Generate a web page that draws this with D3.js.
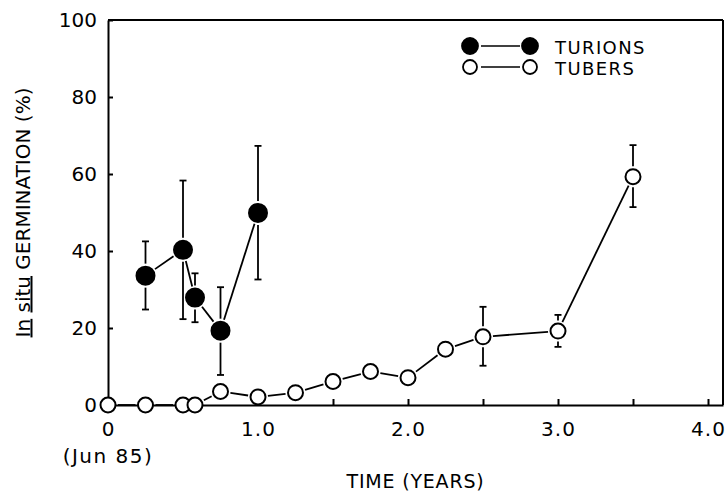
<!DOCTYPE html>
<html lang="en">
<head>
<meta charset="UTF-8">
<title>In situ germination</title>
<script src="https://d3js.org/d3.v7.min.js"></script>
<style>
    body { margin: 0; background: #fff; }
    svg text { font-family: "DejaVu Sans", sans-serif; fill: #000; }
    .axis path, .axis line { stroke: #000; stroke-width: 2; fill: none; }
    .axis text { font-size: 20px; }
    .xlab text { letter-spacing: 1px; }
</style>
</head>
<body>
<div id="chart"></div>
<script>
    // data
    var turionX = [0.25, 0.5, 0.58, 0.75, 1.0];
    var turionY = [33.6, 40.3, 27.9, 19.3, 49.9];
    var turionLo = [24.8, 22.3, 21.5, 7.8, 32.6];
    var turionHi = [42.5, 58.3, 34.2, 30.6, 67.3];

    var tuberX = [0, 0.25, 0.5, 0.58, 0.75, 1.0, 1.25, 1.5, 1.75, 2.0, 2.25, 2.5, 3.0, 3.5];
    var tuberY = [0, 0, 0, 0, 3.5, 2.1, 3.2, 6.1, 8.7, 7.1, 14.5, 17.7, 19.2, 59.3];
    var tuberLo = [null, null, null, null, null, null, null, null, null, null, null, 10.2, 15.1, 51.4];
    var tuberHi = [null, null, null, null, null, null, null, null, null, null, null, 25.5, 23.4, 67.5];

    var xTickLabels = [0, 1, 2, 3, 4];
    var xMinorTicks = [0.5, 1, 1.5, 2, 2.5, 3, 3.5, 4];
    var yTicks = [0, 20, 40, 60, 80, 100];
    var seriesNames = ["TURIONS", "TUBERS"];

    var W = 726, H = 496;
    var margin = { top: 20, right: 3, bottom: 91, left: 108 };
    var width = W - margin.left - margin.right;
    var height = H - margin.top - margin.bottom;

    var x = d3.scaleLinear().domain([0, 4.1]).range([0, width]);
    var y = d3.scaleLinear().domain([0, 100]).range([height, 0]);

    var svg = d3.select("#chart").append("svg")
        .attr("width", W).attr("height", H)
        .append("g")
        .attr("transform", "translate(" + margin.left + "," + margin.top + ")");

    // frame top + right
    svg.append("line").attr("x1", 0).attr("x2", width).attr("y1", 0).attr("y2", 0)
        .attr("stroke", "#000").attr("stroke-width", 2);
    svg.append("line").attr("x1", width).attr("x2", width).attr("y1", 0).attr("y2", height)
        .attr("stroke", "#000").attr("stroke-width", 2);

    // x axis: inward ticks, then labels
    svg.append("g").attr("class", "axis")
        .attr("transform", "translate(0," + height + ")")
        .call(d3.axisBottom(x).tickValues(xMinorTicks).tickSize(-6).tickSizeOuter(0).tickFormat(""));
    svg.append("g").attr("class", "axis xlab")
        .attr("transform", "translate(0," + height + ")")
        .call(d3.axisBottom(x).tickValues(xTickLabels).tickSize(0).tickPadding(17)
            .tickFormat(function (d) { return d === 0 ? "0" : d.toFixed(1); }))
        .call(function (g) { g.select(".domain").remove(); });

    svg.append("text").attr("x", x(0)).attr("y", 443)
        .attr("text-anchor", "middle").style("font-size", "20px").style("letter-spacing", "1.5px")
        .text("(Jun 85)");

    // y axis
    svg.append("g").attr("class", "axis")
        .call(d3.axisLeft(y).tickValues(yTicks).tickSize(-5).tickSizeOuter(0).tickPadding(11));

    // axis titles
    svg.append("text").attr("x", width / 2).attr("y", 468)
        .attr("text-anchor", "middle").style("font-size", "19px").style("letter-spacing", "0.8px")
        .text("TIME (YEARS)");

    var yt = svg.append("text")
        .attr("transform", "translate(" + (29.5 - margin.left) + "," + (height / 2) + ") rotate(-90)")
        .attr("text-anchor", "middle").style("font-size", "20px");
    yt.append("tspan").style("text-decoration", "underline").text("In");
    yt.append("tspan").text(" ");
    yt.append("tspan").style("text-decoration", "underline").text("situ");
    yt.append("tspan").text(" GERMINATION (%)");

    function drawSeries(xs, ys, lo, hi, filled, r) {
        var pts = xs.map(function (d, i) { return [x(d), y(ys[i])]; });
        var gap = r + 2.5;
        // connecting segments stop short of the markers
        for (var i = 0; i < pts.length - 1; i++) {
            var a = pts[i], b = pts[i + 1];
            var dx = b[0] - a[0], dy = b[1] - a[1];
            var len = Math.sqrt(dx * dx + dy * dy);
            if (len <= 2 * gap) continue;
            var ux = dx / len, uy = dy / len;
            svg.append("line")
                .attr("x1", a[0] + ux * gap).attr("y1", a[1] + uy * gap)
                .attr("x2", b[0] - ux * gap).attr("y2", b[1] - uy * gap)
                .attr("stroke", "#000").attr("stroke-width", 1.8);
        }
        // error bars
        xs.forEach(function (d, i) {
            if (hi[i] == null) return;
            var cx = x(d), cy = y(ys[i]);
            var yh = y(hi[i]), yl = y(lo[i]);
            var g = svg.append("g").attr("stroke", "#000").attr("stroke-width", 1.8);
            g.append("line").attr("x1", cx).attr("x2", cx).attr("y1", yh).attr("y2", cy - r - 3);
            g.append("line").attr("x1", cx).attr("x2", cx).attr("y1", cy + r + 3).attr("y2", yl);
            g.append("line").attr("x1", cx - 3.5).attr("x2", cx + 3.5).attr("y1", yh).attr("y2", yh);
            g.append("line").attr("x1", cx - 3.5).attr("x2", cx + 3.5).attr("y1", yl).attr("y2", yl);
        });
        svg.selectAll(null).data(pts).enter().append("circle")
            .attr("cx", function (p) { return p[0]; })
            .attr("cy", function (p) { return p[1]; })
            .attr("r", r)
            .attr("fill", filled ? "#000" : "#fff")
            .attr("stroke", "#000").attr("stroke-width", 2);
    }

    drawSeries(tuberX, tuberY, tuberLo, tuberHi, false, 7.5);
    drawSeries(turionX, turionY, turionLo, turionHi, true, 9);

    // legend
    var leg = svg.append("g").attr("transform", "translate(" + (470 - margin.left) + "," + (46 - margin.top) + ")");
    seriesNames.forEach(function (name, i) {
        var row = leg.append("g").attr("transform", "translate(0," + (i * 21) + ")");
        var filled = i === 0;
        row.append("line").attr("x1", 11).attr("x2", 50).attr("y1", 0).attr("y2", 0)
            .attr("stroke", "#000").attr("stroke-width", 1.5);
        [0, 60].forEach(function (cx) {
            row.append("circle").attr("cx", cx).attr("cy", 0).attr("r", filled ? 8 : 7)
                .attr("fill", filled ? "#000" : "#fff").attr("stroke", "#000").attr("stroke-width", 1.8);
        });
        row.append("text").attr("x", 85).attr("y", 7.5).style("font-size", "18px")
            .style("letter-spacing", "1.4px").text(name);
    });
</script>
</body>
</html>
